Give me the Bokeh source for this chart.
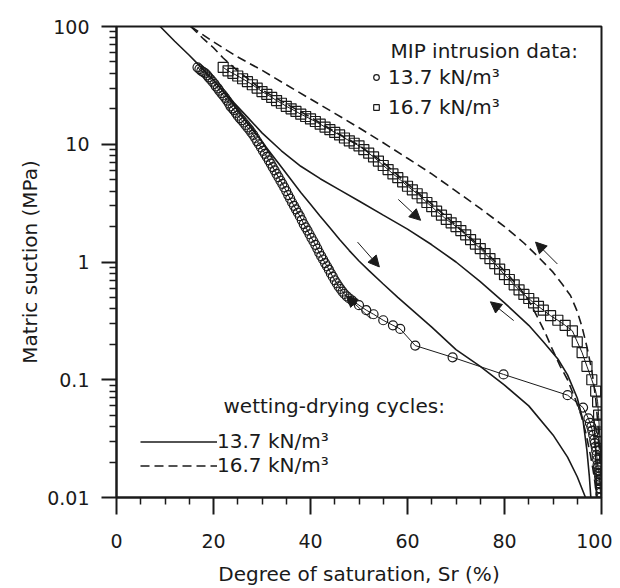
from bokeh.plotting import figure
from bokeh.models import (FixedTicker, CustomJSTickFormatter, Legend, LegendItem,
                          Label, Arrow, NormalHead, ColumnDataSource)
from bokeh.embed import file_html
from bokeh.resources import INLINE

FONT = "DejaVu Sans"
INK = "#1a1a1a"

# ---------------- data ----------------
x_ticks = [0, 20, 40, 60, 80, 100]
x_minor = [5, 10, 15, 25, 30, 35, 45, 50, 55, 65, 70, 75, 85, 90, 95]
y_ticks = [0.01, 0.1, 1, 10, 100]
y_minor = [k * 10.0 ** e for e in (-2, -1, 0, 1) for k in range(2, 10)]

# MIP intrusion data, 13.7 kN/m3 (circles)
circ_x = [16.7, 17.1, 17.5, 17.9, 18.3, 18.7, 19.0, 19.4, 19.8, 20.2,
          20.5, 20.9, 21.2, 21.6, 22.0, 22.4, 22.8, 23.2, 23.5, 23.9,
          24.2, 24.6, 25.0, 25.4, 25.8, 26.2, 26.6, 27.0, 27.4, 27.8,
          28.2, 28.6, 29.0, 29.4, 29.8, 30.2, 30.6, 31.0, 31.4, 31.8,
          32.2, 32.6, 33.0, 33.4, 33.8, 34.2, 34.6, 35.0, 35.4, 35.8,
          36.2, 36.6, 37.0, 37.4, 37.8, 38.2, 38.6, 39.0, 39.4, 39.8,
          40.2, 40.6, 41.0, 41.4, 41.8, 42.2, 42.6, 43.0, 43.4, 43.8,
          44.2, 44.6, 45.0, 45.4, 45.8, 46.2, 46.6, 47.0, 47.5, 48.0,
          48.6, 50.0, 51.5, 53.0, 55.0, 57.0, 58.5, 61.6, 69.3, 79.8,
          93.0, 96.2, 97.3, 97.6, 97.9, 98.1, 98.3, 98.5, 98.6, 98.8,
          98.9, 99.0, 99.1, 99.2, 99.3, 99.4, 99.5, 99.5, 99.6, 99.7,
          99.7, 99.8, 99.9]
circ_y = [45, 43.5, 42, 41, 40, 38.5, 37, 35.5, 34, 32.5,
          31, 29.8, 28.5, 27.2, 26, 24.8, 23.5, 22.2, 21, 20.2,
          19.5, 18.5, 17.5, 16.7, 16, 15.3, 14.6, 13.9, 13.3, 12.6,
          12, 11.3, 10.6, 10.0, 9.4, 8.8, 8.3, 7.8, 7.3, 6.85,
          6.4, 6.0, 5.6, 5.25, 4.9, 4.6, 4.3, 4.0, 3.7, 3.45,
          3.2, 3.0, 2.8, 2.62, 2.45, 2.27, 2.1, 1.97, 1.85, 1.72,
          1.6, 1.5, 1.4, 1.3, 1.2, 1.12, 1.05, 0.98, 0.92, 0.86,
          0.8, 0.75, 0.7, 0.66, 0.62, 0.59, 0.56, 0.535, 0.51, 0.49,
          0.47, 0.43, 0.39, 0.36, 0.32, 0.29, 0.27, 0.195, 0.155, 0.111,
          0.074, 0.058, 0.047, 0.043, 0.04, 0.037, 0.034, 0.031, 0.029, 0.027,
          0.025, 0.023, 0.021, 0.019, 0.018, 0.017, 0.016, 0.015, 0.014, 0.013,
          0.012, 0.011, 0.01]

# MIP intrusion data, 16.7 kN/m3 (squares)
sq_x = [22, 23, 24, 25, 26, 27, 28, 29, 30, 31, 32, 33, 34, 35, 36, 37, 38, 39,
        40, 41, 42, 43, 44, 45, 46, 47, 48, 49, 50, 51, 52, 53, 54, 55, 56, 57,
        58, 59, 60, 61, 62, 63, 64, 65, 66, 67, 68, 69, 70, 71, 72, 73, 74, 75,
        76, 77, 78, 79, 80, 81, 82, 83, 84, 85, 86, 87, 88, 89.5, 91, 92.5, 94,
        95, 96, 97, 98, 98.8, 99.2, 99.4, 99.5, 99.6, 99.7, 99.8, 99.8, 99.9,
        99.9, 100, 100, 100, 100]
sq_y = [45, 42, 40, 38, 36, 34, 32, 30, 28, 26.5, 25, 23.5, 22.3, 21, 20, 19,
        18, 17.2, 16.4, 15.6, 14.8, 14, 13.3, 12.6, 12, 11.3, 10.7, 10.2, 9.7,
        9.0, 8.4, 7.8, 7.2, 6.6, 6.1, 5.6, 5.2, 4.8, 4.4, 4.1, 3.8, 3.5, 3.2,
        2.95, 2.7, 2.5, 2.3, 2.15, 2.0, 1.85, 1.7, 1.55, 1.42, 1.3, 1.18, 1.07,
        0.97, 0.87, 0.78, 0.71, 0.64, 0.58, 0.53, 0.49, 0.45, 0.42, 0.39,
        0.35, 0.32, 0.29, 0.26, 0.21, 0.17, 0.13, 0.1, 0.08, 0.065, 0.05, 0.042,
        0.036, 0.03, 0.026, 0.022, 0.019, 0.016, 0.014, 0.012, 0.011, 0.01]

# wetting-drying cycles, 13.7 kN/m3 (solid lines)
wd137_a_x = [9, 12, 15, 17, 20, 22, 24, 26, 28, 30, 32, 34, 36, 38, 40, 42, 44,
             46, 48, 50, 52, 55, 58, 61, 65, 70, 75, 80, 85, 90, 93, 95, 96.7]
wd137_a_y = [100, 75, 57, 47, 35, 28, 22, 17, 13.5, 10.5, 8.2, 6.4, 5.0, 3.9,
             3.1, 2.45, 1.95, 1.55, 1.25, 1.02, 0.85, 0.65, 0.5, 0.39, 0.28,
             0.18, 0.13, 0.09, 0.06, 0.034, 0.022, 0.015, 0.01]
wd137_b_x = [22, 24, 27, 30, 34, 38, 42, 46, 50, 55, 60, 65, 70, 75, 80, 85,
             88, 91, 93, 95, 96.2, 97, 97.5, 97.8]
wd137_b_y = [28, 23, 17, 12.5, 8.8, 6.5, 5.1, 4.1, 3.3, 2.5, 1.9, 1.4, 1.0,
             0.68, 0.45, 0.29, 0.21, 0.15, 0.11, 0.07, 0.045, 0.025, 0.015, 0.01]

# wetting-drying cycles, 16.7 kN/m3 (dashed lines)
wd167_a_x = [15.3, 20, 25, 30, 35, 40, 45, 50, 55, 60, 65, 70, 75, 80, 84, 87,
             90, 92, 93.6, 95, 96, 97, 98, 98.8, 99.3, 99.7, 100]
wd167_a_y = [100, 74, 55, 42.5, 32, 24.2, 18.3, 13.8, 10.3, 7.6, 5.6, 4.0, 2.85,
             2.0, 1.45, 1.1, 0.82, 0.64, 0.52, 0.38, 0.28, 0.19, 0.12, 0.07,
             0.04, 0.02, 0.01]
wd167_b_x = [15.3, 18, 20, 22, 25, 30, 35, 40, 45, 50, 55, 60, 65, 70, 75,
             80, 83, 85, 86.8, 88.5, 89.9, 91.5, 93, 94.5, 95.8, 96.8, 97.8,
             98.5, 99]
wd167_b_y = [100, 78, 66, 54, 42, 29, 22, 17, 12.8, 9.8, 7.0, 4.6, 3.1,
             2.05, 1.35, 0.84, 0.61, 0.47, 0.34, 0.245, 0.18, 0.13, 0.1, 0.07,
             0.05, 0.035, 0.022, 0.015, 0.01]

# direction arrows (start -> end)
arrow_x0 = [58.1, 49.7, 52.4, 81.9, 90.9]
arrow_y0 = [3.40, 1.476, 0.330, 0.318, 0.962]
arrow_x1 = [62.7, 54.2, 47.4, 77.1, 86.4]
arrow_y1 = [2.26, 0.908, 0.516, 0.459, 1.476]

# ---------------- figure ----------------
p = figure(width=612, height=588, x_range=(0, 100), y_range=(0.01, 100),
           y_axis_type="log", output_backend="svg", toolbar_location=None,
           min_border_left=116, min_border_right=11, min_border_top=26,
           min_border_bottom=88)
p.grid.visible = False
p.outline_line_color = INK
p.outline_line_width = 2
p.outline_line_alpha = 1.0
p.background_fill_color = "white"
p.border_fill_color = "white"

p.xaxis.ticker = FixedTicker(ticks=x_ticks, minor_ticks=x_minor)
p.yaxis.ticker = FixedTicker(ticks=y_ticks, minor_ticks=y_minor)
p.yaxis.formatter = CustomJSTickFormatter(code="return String(tick)")

for ax in (p.xaxis[0], p.yaxis[0]):
    ax.axis_line_width = 2
    ax.axis_line_color = INK
    ax.major_tick_line_width = 2
    ax.minor_tick_line_width = 1.5
    ax.major_tick_line_color = INK
    ax.minor_tick_line_color = INK
    ax.major_tick_in = 0
    ax.minor_tick_in = 0
    ax.major_label_text_font = FONT
    ax.major_label_text_font_size = "19px"
    ax.major_label_text_color = INK
    ax.axis_label_text_font = FONT
    ax.axis_label_text_font_size = "20px"
    ax.axis_label_text_font_style = "normal"
    ax.axis_label_text_color = INK

p.xaxis.major_tick_out = 17
p.xaxis.minor_tick_out = 7
p.xaxis.major_label_standoff = 19
p.xaxis.axis_label = "Degree of saturation, Sr (%)"
p.xaxis.axis_label_standoff = 11

p.yaxis.major_tick_out = 15
p.yaxis.minor_tick_out = 7
p.yaxis.major_label_standoff = 12
p.yaxis.axis_label = "Matric suction (MPa)"
p.yaxis.axis_label_standoff = 2

# curves
r_a = p.line(wd137_a_x, wd137_a_y, line_color=INK, line_width=1.6)
p.line(wd137_b_x, wd137_b_y, line_color=INK, line_width=1.6)
r_d = p.line(wd167_a_x, wd167_a_y, line_color=INK, line_width=1.6, line_dash="9 5")
p.line(wd167_b_x, wd167_b_y, line_color=INK, line_width=1.6, line_dash="9 5")

# MIP data
p.line(circ_x, circ_y, line_color=INK, line_width=1)
r_c = p.scatter(circ_x, circ_y, marker="circle", size=9, fill_alpha=0,
                line_color=INK, line_width=1.2)
p.line(sq_x, sq_y, line_color=INK, line_width=1)
r_s = p.scatter(sq_x, sq_y, marker="square", size=10, fill_alpha=0,
                line_color=INK, line_width=1.2)

# arrows
arr_src = ColumnDataSource(dict(x0=arrow_x0, y0=arrow_y0, x1=arrow_x1, y1=arrow_y1))
p.add_layout(Arrow(source=arr_src, x_start="x0", y_start="y0", x_end="x1", y_end="y1",
                   line_color=INK, line_width=1,
                   end=NormalHead(size=11, fill_color=INK, line_color=INK)))

# legends
common = dict(padding=0, margin=0, border_line_alpha=0, background_fill_alpha=0,
              label_text_font=FONT, label_text_font_size="20px",
              label_text_color=INK, spacing=0)
leg_mip = Legend(items=[LegendItem(label="13.7 kN/m³", renderers=[r_c]),
                        LegendItem(label="16.7 kN/m³", renderers=[r_s])],
                 location=(253, 375), glyph_width=14, glyph_height=30,
                 label_height=30, label_standoff=5, **common)
leg_wd = Legend(items=[LegendItem(label="13.7 kN/m³", renderers=[r_a]),
                       LegendItem(label="16.7 kN/m³", renderers=[r_d])],
                location=(24, 20), glyph_width=77, glyph_height=23,
                label_height=23, label_standoff=0, **common)
p.add_layout(leg_mip)
p.add_layout(leg_wd)

p.add_layout(Label(x=274, y=447, x_units="screen", y_units="screen",
                   text="MIP intrusion data:", text_baseline="middle",
                   text_font=FONT, text_font_size="20px", text_color=INK))
p.add_layout(Label(x=107, y=92, x_units="screen", y_units="screen",
                   text="wetting-drying cycles:", text_baseline="middle",
                   text_font=FONT, text_font_size="20px", text_color=INK))

open("out.html", "w").write(file_html(p, INLINE))
